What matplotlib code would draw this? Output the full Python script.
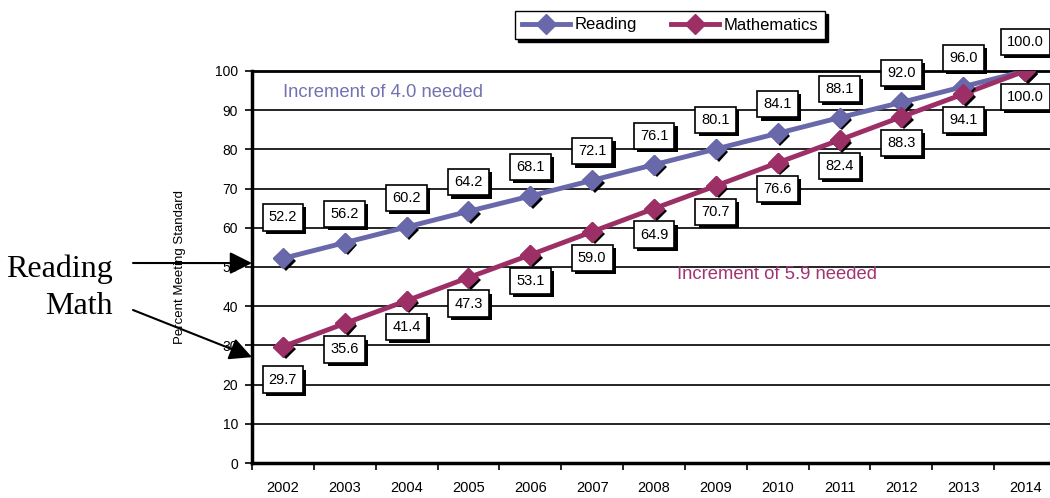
import matplotlib
matplotlib.use("Agg")
import matplotlib.pyplot as plt
import matplotlib.patheffects as pe
import numpy as np

years = ["2002", "2003", "2004", "2005", "2006", "2007", "2008",
         "2009", "2010", "2011", "2012", "2013", "2014"]
reading = [52.2, 56.2, 60.2, 64.2, 68.1, 72.1, 76.1, 80.1, 84.1, 88.1, 92.0, 96.0, 100.0]
math = [29.7, 35.6, 41.4, 47.3, 53.1, 59.0, 64.9, 70.7, 76.6, 82.4, 88.3, 94.1, 100.0]
y_ticks = list(range(0, 101, 10))

READING_COLOR = "#6868aa"
MATH_COLOR = "#9c2f66"

plt.rcParams["font.family"] = ["Liberation Sans", "DejaVu Sans"]

fig = plt.figure(figsize=(10.5, 4.98), dpi=100)
ax = fig.add_axes([252 / 1050, 35 / 498, 804 / 1050, 392 / 498])
x = np.arange(len(years))

# lines first, then markers with a hard black drop shadow on top
marker_shadow = [pe.SimplePatchShadow(offset=(2, -2), shadow_rgbFace="k", alpha=1), pe.Normal()]
for vals, color, name in [(reading, READING_COLOR, "Reading"), (math, MATH_COLOR, "Mathematics")]:
    ax.plot(x, vals, color=color, lw=3.5, marker="D", ms=10, mec=color, label=name, zorder=3)
    ax.plot(x, vals, ls="none", marker="D", ms=10, color=color, mec=color,
            path_effects=marker_shadow, zorder=4)

box_shadow = [pe.SimplePatchShadow(offset=(2.3, -2.3), shadow_rgbFace="k", alpha=1), pe.Normal()]


def box_label(xv, yv, text, dy):
    t = ax.annotate(text, xy=(xv, yv), xytext=(0, dy), textcoords="offset pixels",
                    ha="center", va="center", fontsize=10.5, zorder=6, annotation_clip=False,
                    bbox=dict(boxstyle="square,pad=0.42", fc="w", ec="k", lw=1.2))
    t.get_bbox_patch().set_path_effects(box_shadow)


for i in x:
    box_label(i, reading[i], f"{reading[i]:.1f}", 41 if i == 0 else 29)
    box_label(i, math[i], f"{math[i]:.1f}", -33 if i == 0 else -26)

ax.text(0, 94.6, "Increment of 4.0 needed", color="#7272b2", fontsize=13.3,
        ha="left", va="center")
ax.text(6.37, 48, "Increment of 5.9 needed", color="#a23372", fontsize=13.3,
        ha="left", va="center")

ax.set_xlim(-0.5, len(years) - 0.5)
ax.set_ylim(0, 100)
ax.set_yticks(y_ticks)
ax.set_xticks(x)
ax.set_xticklabels(years)
ax.set_xticks(np.arange(-0.5, len(years)), minor=True)
ax.tick_params(axis="x", which="major", length=0, pad=13, labelsize=10.5)
ax.tick_params(axis="x", which="minor", length=5, width=1.2, direction="out")
ax.tick_params(axis="y", length=5, width=1.2, direction="out", pad=5, labelsize=10)
ax.grid(axis="y", color="k", lw=1.2)
ax.set_axisbelow(True)
for side in ["left", "bottom"]:
    ax.spines[side].set_linewidth(2.5)
ax.spines["top"].set_linewidth(2.0)
ax.spines["right"].set_visible(False)

ax.set_ylabel("Percent Meeting Standard", fontsize=9.5)
ax.yaxis.set_label_coords((186 - 252) / 804, 0.5)

fig.legend(loc="center", bbox_to_anchor=(670 / 1050, 1 - 25 / 498), ncol=2,
           fontsize=12, frameon=True, fancybox=False, edgecolor="k",
           shadow={"color": "k", "alpha": 1, "ox": 2, "oy": -2},
           handlelength=2.9, columnspacing=2.0, borderpad=0.4, handletextpad=0.3)

# hand-drawn pointers on the left
ax.annotate("", xy=(0, 51), xycoords=("axes fraction", "data"),
            xytext=(133 / 1050, 1 - 263 / 498), textcoords="figure fraction",
            arrowprops=dict(arrowstyle="-|>", color="k", lw=1.5, mutation_scale=34,
                            shrinkA=0, shrinkB=0), annotation_clip=False)
ax.annotate("", xy=(0, 27), xycoords=("axes fraction", "data"),
            xytext=(133 / 1050, 1 - 310 / 498), textcoords="figure fraction",
            arrowprops=dict(arrowstyle="-|>", color="k", lw=1.5, mutation_scale=34,
                            shrinkA=0, shrinkB=0), annotation_clip=False)
fig.text(113 / 1050, 1 - 277 / 498, "Reading", family="Liberation Serif", fontsize=23,
         ha="right", va="baseline")
fig.text(113 / 1050, 1 - 314 / 498, "Math", family="Liberation Serif", fontsize=23,
         ha="right", va="baseline")

fig.savefig("out.png", dpi=100)
